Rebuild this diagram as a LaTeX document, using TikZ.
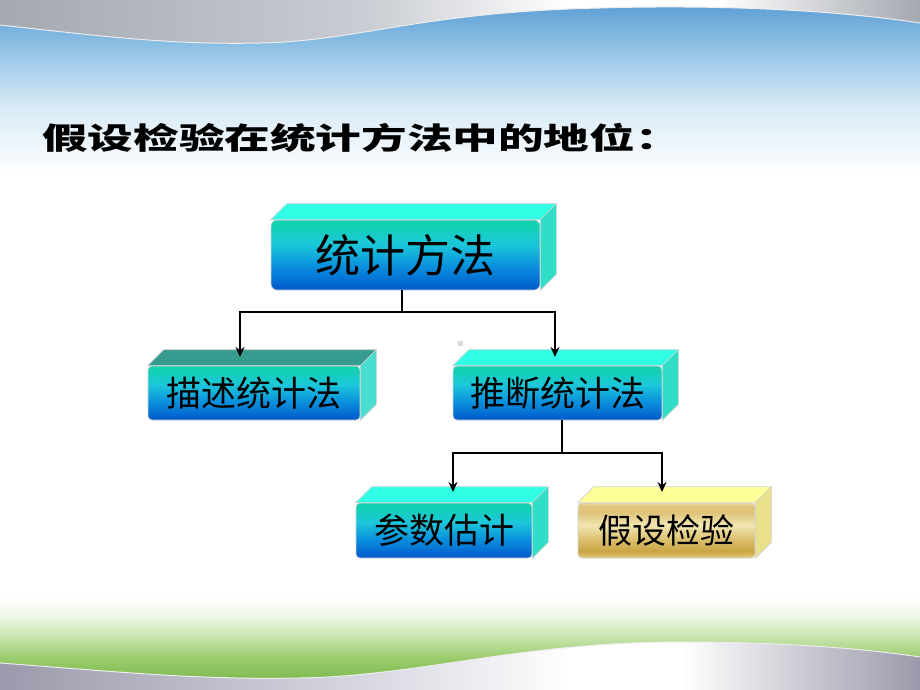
\documentclass[tikz,border=0pt]{standalone}
\usepackage{fontspec}
\usepackage{graphicx}
\newfontfamily\cjk{Noto Sans CJK SC}
\usetikzlibrary{arrows.meta,calc}
\definecolor{bxBot}{HTML}{0058CC}
\definecolor{bxMidA}{HTML}{0A90DD}
\definecolor{bxMidB}{HTML}{1CC8DA}
\definecolor{bxTop}{HTML}{12D0B0}
\definecolor{cyanTop}{HTML}{30FFE6}
\definecolor{cyanSide}{HTML}{30DEC8}
\definecolor{tealTop}{HTML}{369A8E}
\definecolor{tealSide}{HTML}{48DDD0}
\definecolor{gdA}{HTML}{E4CE84}
\definecolor{gdB}{HTML}{C8A442}
\definecolor{gdC}{HTML}{DCC070}
\definecolor{gdD}{HTML}{F2E6B0}
\definecolor{gdE}{HTML}{E0C47C}
\definecolor{gdF}{HTML}{E8D8A0}
\definecolor{goldTop}{HTML}{FFFF99}
\definecolor{goldSide}{HTML}{E8E08A}
\definecolor{skyA}{HTML}{5A9CD4}
\definecolor{skyB}{HTML}{8CC0E4}
\definecolor{skyC}{HTML}{D8EAF6}
\definecolor{slvA}{HTML}{A4A8B0}
\definecolor{slvB}{HTML}{CACDD3}
\definecolor{slvC}{HTML}{9A9AAC}
\definecolor{slvD}{HTML}{D8D8E2}
\definecolor{grA}{HTML}{72B242}
\definecolor{grB}{HTML}{9ACC6C}
\definecolor{grC}{HTML}{D0E8B8}
\definecolor{grD}{HTML}{F2F9EC}
\pgfdeclareverticalshading{bluebox}{100bp}{color(0bp)=(bxBot); color(25bp)=(bxBot); color(42bp)=(bxMidA); color(58bp)=(bxMidB); color(72bp)=(bxTop); color(100bp)=(bxTop)}
\pgfdeclareverticalshading{goldbox}{100bp}{color(0bp)=(gdA); color(25bp)=(gdA); color(31bp)=(gdB); color(42bp)=(gdC); color(55bp)=(gdD); color(66bp)=(gdE); color(72bp)=(gdE); color(75bp)=(gdF); color(100bp)=(gdF)}
\pgfdeclareverticalshading{skyfade}{100bp}{color(0bp)=(white); color(25bp)=(white); color(45bp)=(skyC); color(62bp)=(skyB); color(75bp)=(skyA); color(100bp)=(skyA)}
\pgfdeclarehorizontalshading{silvertop}{100bp}{color(0bp)=(slvA); color(25bp)=(slvA); color(45bp)=(slvB); color(56bp)=(white); color(64bp)=(white); color(75bp)=(slvA); color(100bp)=(slvA)}
\pgfdeclarehorizontalshading{silverbot}{100bp}{color(0bp)=(slvC); color(25bp)=(slvC); color(45bp)=(slvD); color(56bp)=(white); color(62bp)=(white); color(75bp)=(slvC); color(100bp)=(slvC)}
\pgfdeclareverticalshading{grass}{100bp}{color(0bp)=(grA); color(25bp)=(grA); color(42bp)=(grB); color(55bp)=(grC); color(66bp)=(grD); color(75bp)=(white); color(100bp)=(white)}
\tikzset{
  front/.style={draw=gray!35, line width=0.6pt, rounded corners=4pt, inner sep=0pt, font=\cjk, text=black},
  bluefront/.style={front, shading=bluebox},
  goldfront/.style={front, shading=goldbox},
  facebox/.style={draw=gray!35, line width=0.6pt},
  ln/.style={line width=2.3pt, black},
  arr/.style={ln, -{Stealth[length=10pt,width=9pt]}},
}
\newcommand\boxfaces[4]{% node, depth, top colour, side colour
  \filldraw[facebox, fill=#3] (#1.north west) -- ++(#2,-#2) -- ($(#1.north east)+(#2,-#2)$) -- (#1.north east) -- cycle;
  \filldraw[facebox, fill=#4] (#1.north east) -- ++(#2,-#2) -- ($(#1.south east)+(#2,-#2)$) -- (#1.south east) -- cycle;
}
\begin{document}
\begin{tikzpicture}[x=1pt,y=-1pt]
\useasboundingbox (0,0) rectangle (920,690);
% background
\fill[white] (0,0) rectangle (920,690);
\shade[shading=skyfade] (0,0) rectangle (920,175);
\shade[shading=silvertop] (0,0) -- (920,0) -- (920,23)
  .. controls (820,8) and (700,5) .. (600,8)
  .. controls (420,12) and (360,41) .. (260,43)
  .. controls (170,45) and (100,36) .. (0,25) -- cycle;
\draw[white!85!gray, line width=1pt] (920,23)
  .. controls (820,8) and (700,5) .. (600,8)
  .. controls (420,12) and (360,41) .. (260,43)
  .. controls (170,45) and (100,36) .. (0,25);
\shade[shading=grass] (0,596) rectangle (920,690);
\shade[shading=silverbot] (0,663)
  .. controls (120,672) and (200,680) .. (300,678)
  .. controls (420,676) and (520,642) .. (680,642)
  .. controls (780,642) and (860,648) .. (920,657) -- (920,690) -- (0,690) -- cycle;
\draw[white!85!gray, line width=1pt] (0,663)
  .. controls (120,672) and (200,680) .. (300,678)
  .. controls (420,676) and (520,642) .. (680,642)
  .. controls (780,642) and (860,648) .. (920,657);

% title
\node[anchor=west, inner sep=0pt, font=\cjk\bfseries\fontsize{30}{34}\selectfont] (title) at (42,138)
  {\scalebox{1.52}[1]{假设检验在统计方法中的地位：}};

% boxes
\node[bluefront, rounded corners=6pt, minimum width=269pt, minimum height=70pt, font=\cjk\fontsize{45}{48}\selectfont] (stat) at (405.5,255) {统计方法};
\boxfaces{stat}{16}{cyanTop}{cyanSide}
\node[bluefront, minimum width=212pt, minimum height=54pt, font=\cjk\fontsize{35}{40}\selectfont] (desc) at (254,393) {描述统计法};
\boxfaces{desc}{16}{tealTop}{tealSide}
\node[bluefront, minimum width=209pt, minimum height=54pt, font=\cjk\fontsize{35}{40}\selectfont] (infer) at (557.5,393) {推断统计法};
\boxfaces{infer}{16}{cyanTop}{cyanSide}
\node[bluefront, minimum width=176pt, minimum height=55pt, font=\cjk\fontsize{35}{40}\selectfont] (param) at (444,530.5) {参数估计};
\boxfaces{param}{16}{cyanTop}{cyanSide}
\node[goldfront, minimum width=177pt, minimum height=55pt, font=\cjk\fontsize{34}{40}\selectfont] (hypo) at (666.5,530.5) {假设检验};
\boxfaces{hypo}{16}{goldTop}{goldSide}

% small grey mark
\node[fill=gray!30, minimum size=5pt, inner sep=0pt] (mark) at (460,343) {};

% connectors
\coordinate (j1) at (402,312);
\coordinate (descIn) at (240,357);
\coordinate (inferIn) at (555,357);
\draw[ln] (stat.south -| j1) -- (j1);
\draw[arr] (j1) -| (descIn);
\draw[arr] (j1) -| (inferIn);
\coordinate (j2) at (562,453);
\coordinate (paramIn) at (453,492);
\coordinate (hypoIn) at (662,492);
\draw[ln] (infer.south -| j2) -- (j2);
\draw[arr] (j2) -| (paramIn);
\draw[arr] (j2) -| (hypoIn);
\end{tikzpicture}
\end{document}
